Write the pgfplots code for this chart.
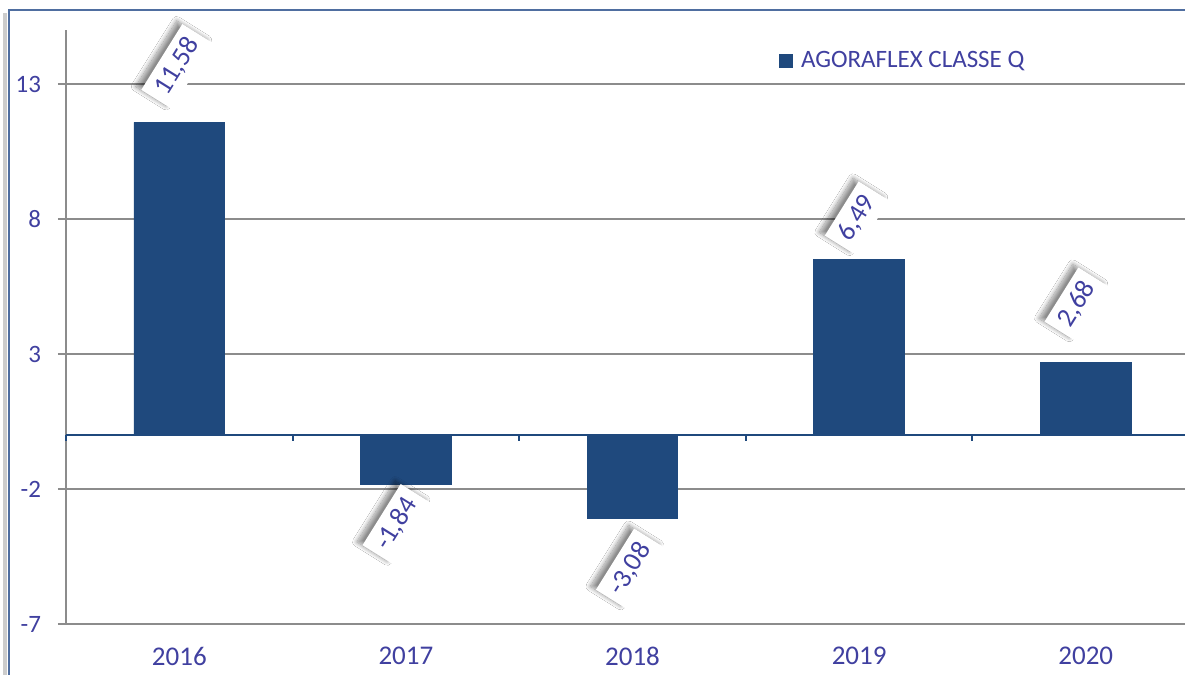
\documentclass[border=0pt]{standalone}
\usepackage{pgfplots}
\pgfplotsset{compat=1.18}
\usepackage{pgfplotstable}
\usepackage{fontspec}
\setmainfont{Carlito}
\usetikzlibrary{shadows.blur}
\definecolor{barblue}{RGB}{31,73,125}
\definecolor{txtblue}{RGB}{64,64,160}
\definecolor{gridgray}{RGB}{140,140,140}
\definecolor{frameblue}{RGB}{79,110,160}

\pgfplotstableread{
x y
0 11.58
1 -1.84
2 -3.08
3 6.49
4 2.68
}\bars

\pgfplotstableread{
x y label
-0.01 13.65 11,58
0.96 -3.3 -1,84
1.99 -4.95 -3,08
2.99 8.04 6,49
3.96 4.85 2,68
}\labels

\begin{document}
\begin{tikzpicture}
\useasboundingbox (0pt,0pt) rectangle (592.5pt,337.5pt);
\clip (0pt,0pt) rectangle (592.5pt,337.5pt);
\fill[white] (0pt,0pt) rectangle (592.5pt,337.5pt);
\draw[black!20, line width=2pt] (2.5pt,0pt) -- (2.5pt,331pt);
\draw[frameblue, line width=0.7pt] (4.5pt,0pt) -- (4.5pt,332.5pt) -- (592.5pt,332.5pt);
\begin{axis}[
  at={(33pt,25.5pt)}, anchor=south west,
  scale only axis, width=559.5pt, height=297pt,
  xmin=-0.5, xmax=4.438, ymin=-7, ymax=15,
  axis x line*=bottom, axis y line*=left,
  axis line style={-, draw=gridgray, line width=1pt},
  x axis line style={draw=none},
  ytick={-7,-2,3,8,13},
  ymajorgrids, grid style={gridgray, line width=1pt},
  tick align=outside, major tick length=4pt,
  y tick style={gridgray, line width=1pt},
  x tick style={draw=none},
  xtick={0,1,2,3,4}, xticklabels={2016,2017,2018,2019,2020},
  /pgf/number format/assume math mode=true,
  yticklabel style={text=txtblue, font=\fontsize{12.5}{14}\selectfont, xshift=-5pt},
  xticklabel style={text=txtblue, font=\fontsize{13.5}{15}\selectfont, yshift=-4pt},
  legend style={at={(rel axis cs:0.637,0.948)}, anchor=west, draw=none, fill=none,
    font=\fontsize{12.5}{14}\selectfont, text=txtblue, inner sep=0pt,
    legend cell align=left, nodes={inner xsep=4pt}},
  legend image code/.code={\fill[barblue] (0pt,-3.25pt) rectangle (6.5pt,3.25pt);},
  clip=false,
]
\addplot[ybar, bar width=0.4, fill=barblue, draw=barblue] table[x=x,y=y] {\bars};
\addlegendentry{AGORAFLEX CLASSE Q}
\draw[barblue, line width=1pt] (axis cs:-0.5,0) -- (axis cs:4.438,0);
\pgfplotsinvokeforeach{-0.5,0.5,1.5,2.5,3.5}{
  \draw[barblue, line width=1pt] (axis cs:#1,0) -- ++(0pt,-3pt);
}
\addplot[draw=none, forget plot, nodes near coords, point meta=explicit symbolic,
  every node near coord/.append style={anchor=center, rotate=58, fill=white,
    text=txtblue, font=\fontsize{13.5}{15}\selectfont, inner xsep=4pt, inner ysep=3.5pt,
    blur shadow={shadow xshift=-2.8pt, shadow yshift=1.6pt, shadow blur radius=2.2pt,
      shadow blur steps=14, shadow opacity=45}}]
  table[x=x,y=y,meta=label] {\labels};
\end{axis}
\end{tikzpicture}
\end{document}
